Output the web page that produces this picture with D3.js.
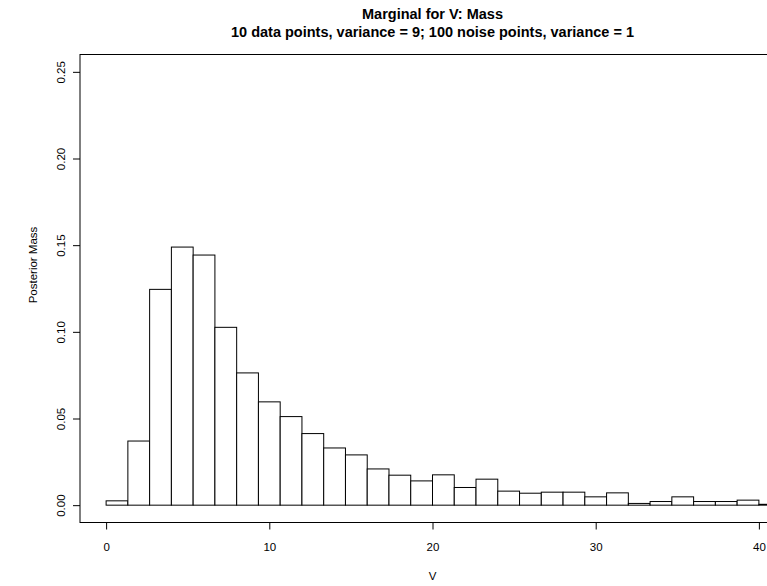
<!DOCTYPE html>
<html>
<head>
<meta charset="utf-8">
<script src="https://cdn.jsdelivr.net/npm/d3@7"></script>
<style>
    body { margin: 0; background: #fff; }
    text { font-family: "Liberation Sans", Arial, sans-serif; fill: #000; }
</style>
</head>
<body>
<div id="chart"></div>
<script>
// bins are 4/3 wide, starting at 0
var binWidth = 4 / 3;
var binStarts = d3.range(31).map(function(i) { return i * binWidth; });
var mass = [0.0025, 0.037, 0.1245, 0.1489, 0.1443, 0.1026, 0.0763, 0.0596, 0.0511, 0.0413,
    0.033, 0.029, 0.0209, 0.0173, 0.014, 0.0175, 0.0102, 0.015, 0.0081, 0.0069,
    0.0075, 0.0075, 0.0048, 0.0071, 0.001, 0.0021, 0.0048, 0.0021, 0.0021, 0.0029, 0.0005];
var xTicks = [0, 10, 20, 30, 40];
var yTicks = [0, 0.05, 0.10, 0.15, 0.20, 0.25];

var W = 767, H = 586;
var margin = { top: 54.5, left: 80, bottom: 522.5, right: 785 };

var svg = d3.select("#chart").append("svg")
    .attr("width", W)
    .attr("height", H);

// R style 4% padding on both axes
var x = d3.scaleLinear().domain([-1.6, 41.6]).range([margin.left, margin.right]);
var y = d3.scaleLinear().domain([-0.01, 0.26]).range([margin.bottom, margin.top]);

var bars = mass.map(function(m, i) { return { x0: binStarts[i], x1: binStarts[i] + binWidth, m: m }; });

svg.append("g").selectAll("rect")
    .data(bars)
    .enter().append("rect")
    .attr("x", function(d) { return x(d.x0); })
    .attr("width", function(d) { return x(d.x1) - x(d.x0); })
    .attr("y", function(d) { return y(d.m); })
    .attr("height", function(d) { return y(0) - y(d.m); })
    .attr("fill", "#fff")
    .attr("stroke", "#000")
    .attr("stroke-width", 1);

// frame
svg.append("rect")
    .attr("x", margin.left)
    .attr("y", margin.top)
    .attr("width", margin.right - margin.left)
    .attr("height", margin.bottom - margin.top)
    .attr("fill", "none")
    .attr("stroke", "#000")
    .attr("stroke-width", 1);

var xAxis = d3.axisBottom(x).tickValues(xTicks).tickSize(7).tickPadding(13)
    .tickFormat(d3.format("d"));
svg.append("g")
    .attr("transform", "translate(0," + margin.bottom + ")")
    .call(xAxis)
    .call(function(g) { g.select(".domain").remove(); })
    .call(function(g) {
        g.selectAll("text").style("font-size", "11.5px").style("font-family", "Liberation Sans, Arial, sans-serif");
    });

var yAxis = d3.axisLeft(y).tickValues(yTicks).tickSize(7).tickFormat(d3.format(".2f"));
var gy = svg.append("g")
    .attr("transform", "translate(" + margin.left + ",0)")
    .call(yAxis)
    .call(function(g) { g.select(".domain").remove(); });
// rotated labels, baseline one line left of the axis
gy.selectAll(".tick text")
    .attr("x", 0).attr("y", 0).attr("dy", null)
    .attr("transform", "translate(-15,0) rotate(-90)")
    .attr("text-anchor", "middle")
    .style("font-size", "11.5px")
    .style("font-family", "Liberation Sans, Arial, sans-serif");

svg.append("text")
    .attr("transform", "translate(37,265) rotate(-90)")
    .attr("text-anchor", "middle")
    .style("font-size", "11.5px")
    .text("Posterior Mass");

svg.append("text")
    .attr("x", x(20))
    .attr("y", 580)
    .attr("text-anchor", "middle")
    .style("font-size", "11.5px")
    .text("V");

var cx = (margin.left + margin.right) / 2;
svg.append("text")
    .attr("x", cx).attr("y", 19)
    .attr("text-anchor", "middle")
    .style("font-size", "14.5px").style("font-weight", "bold")
    .text("Marginal for V: Mass");
svg.append("text")
    .attr("x", cx).attr("y", 36.5)
    .attr("text-anchor", "middle")
    .style("font-size", "14.5px").style("font-weight", "bold")
    .text("10 data points, variance = 9; 100 noise points, variance = 1");
</script>
</body>
</html>
